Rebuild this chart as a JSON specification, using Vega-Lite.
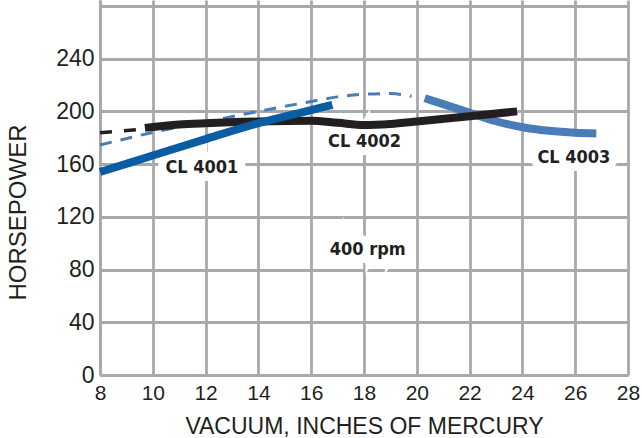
{
  "$schema": "https://vega.github.io/schema/vega-lite/v6.json",
  "description": "Horsepower vs vacuum for CL 4001, CL 4002 and CL 4003 at 400 rpm.",
  "width": 528,
  "height": 375,
  "autosize": {"type": "none"},
  "padding": {"left": 100, "top": 0, "right": 14, "bottom": 63},
  "background": "white",
  "config": {
    "view": {"stroke": null},
    "axis": {
      "grid": true,
      "gridColor": "#a7a9ac",
      "gridWidth": 2.8,
      "domainColor": "#a7a9ac",
      "domainWidth": 2.8,
      "ticks": false,
      "labelFont": "Liberation Sans",
      "labelFontSize": 21,
      "labelColor": "#231f20",
      "labelFlush": false,
      "labelOverlap": false,
      "titleFont": "Liberation Sans",
      "titleFontWeight": "normal",
      "titleColor": "#231f20"
    }
  },
  "datasets": {
    "curves": [
      {"series": "blue_dash", "x": 8, "y": 174.5},
      {"series": "blue_dash", "x": 10, "y": 184},
      {"series": "blue_dash", "x": 12, "y": 192},
      {"series": "blue_dash", "x": 14, "y": 200},
      {"series": "blue_dash", "x": 16, "y": 207.5},
      {"series": "blue_dash", "x": 17, "y": 211},
      {"series": "blue_dash", "x": 18, "y": 213},
      {"series": "blue_dash", "x": 19, "y": 213.5},
      {"series": "blue_dash", "x": 19.8, "y": 211.5},
      {"series": "black_dash", "x": 8, "y": 183.8},
      {"series": "black_dash", "x": 9.6, "y": 186.5},
      {"series": "CL 4003", "x": 20.3, "y": 210},
      {"series": "CL 4003", "x": 21, "y": 205.5},
      {"series": "CL 4003", "x": 22, "y": 199},
      {"series": "CL 4003", "x": 23, "y": 192.5},
      {"series": "CL 4003", "x": 24, "y": 188},
      {"series": "CL 4003", "x": 25, "y": 185.3},
      {"series": "CL 4003", "x": 26, "y": 183.8},
      {"series": "CL 4003", "x": 26.8, "y": 183.3},
      {"series": "CL 4002", "x": 9.7, "y": 187.5},
      {"series": "CL 4002", "x": 11, "y": 190},
      {"series": "CL 4002", "x": 12, "y": 191},
      {"series": "CL 4002", "x": 14, "y": 192.3},
      {"series": "CL 4002", "x": 16, "y": 192.8},
      {"series": "CL 4002", "x": 17, "y": 191.3},
      {"series": "CL 4002", "x": 18, "y": 189.7},
      {"series": "CL 4002", "x": 19, "y": 190.5},
      {"series": "CL 4002", "x": 20, "y": 192.3},
      {"series": "CL 4002", "x": 22, "y": 196.3},
      {"series": "CL 4002", "x": 23.8, "y": 200},
      {"series": "CL 4001", "x": 8, "y": 154},
      {"series": "CL 4001", "x": 10, "y": 166.5},
      {"series": "CL 4001", "x": 12, "y": 179},
      {"series": "CL 4001", "x": 14, "y": 191},
      {"series": "CL 4001", "x": 16, "y": 201},
      {"series": "CL 4001", "x": 16.8, "y": 205}
    ],
    "labels": [
      {"text": "CL 4001", "x": 11.86, "y": 157},
      {"text": "CL 4002", "x": 18.02, "y": 176.4},
      {"text": "CL 4003", "x": 25.95, "y": 164.6},
      {"text": "400 rpm", "x": 18.14, "y": 94.8}
    ]
  },
  "encoding": {
    "x": {
      "field": "x",
      "type": "quantitative",
      "scale": {"domain": [8, 28], "nice": false, "zero": false},
      "axis": {
        "values": [8, 10, 12, 14, 16, 18, 20, 22, 24, 26, 28],
        "labelPadding": 7,
        "title": "VACUUM, INCHES OF MERCURY",
        "titleFontSize": 23,
        "titleBaseline": "alphabetic",
        "titleX": 264,
        "titleY": 58
      }
    },
    "y": {
      "field": "y",
      "type": "quantitative",
      "scale": {"domain": [0, 284.5], "nice": false},
      "axis": {
        "values": [0, 40, 80, 120, 160, 200, 240, 280],
        "labelExpr": "datum.value == 280 ? '' : datum.label",
        "labelFontSize": 23,
        "labelPadding": 6,
        "title": "HORSEPOWER",
        "titleFontSize": 24,
        "titleAngle": 270,
        "titleAlign": "center",
        "titleBaseline": "alphabetic",
        "titleX": -75,
        "titleY": 212
      }
    }
  },
  "layer": [
    {
      "data": {"name": "labels"},
      "mark": {"type": "text", "font": "DejaVu Sans Condensed", "fontWeight": "bold", "fontSize": 18, "baseline": "middle", "fill": "white", "stroke": "white", "strokeWidth": 16, "strokeJoin": "miter"},
      "encoding": {"text": {"field": "text"}}
    },
    {
      "data": {"name": "curves"},
      "transform": [{"filter": "datum.series == 'blue_dash'"}],
      "mark": {"type": "line", "color": "#4a7cb8", "strokeWidth": 3, "strokeDash": [12, 9], "interpolate": "monotone", "strokeCap": "butt"}
    },
    {
      "data": {"name": "curves"},
      "transform": [{"filter": "datum.series == 'black_dash'"}],
      "mark": {"type": "line", "color": "#231f20", "strokeWidth": 3.5, "strokeDash": [12, 12], "strokeCap": "butt"}
    },
    {
      "data": {"name": "curves"},
      "transform": [{"filter": "datum.series == 'CL 4003'"}],
      "mark": {"type": "line", "color": "#4a7cb8", "strokeWidth": 8, "interpolate": "monotone", "strokeCap": "butt"}
    },
    {
      "data": {"name": "curves"},
      "transform": [{"filter": "datum.series == 'CL 4002'"}],
      "mark": {"type": "line", "color": "#231f20", "strokeWidth": 8, "interpolate": "monotone", "strokeCap": "butt"}
    },
    {
      "data": {"name": "curves"},
      "transform": [{"filter": "datum.series == 'CL 4001'"}],
      "mark": {"type": "line", "color": "#0a5ca3", "strokeWidth": 8, "interpolate": "monotone", "strokeCap": "butt"}
    },
    {
      "data": {"name": "labels"},
      "mark": {"type": "text", "font": "DejaVu Sans Condensed", "fontWeight": "bold", "fontSize": 18, "baseline": "middle", "color": "#231f20"},
      "encoding": {"text": {"field": "text"}}
    }
  ]
}
